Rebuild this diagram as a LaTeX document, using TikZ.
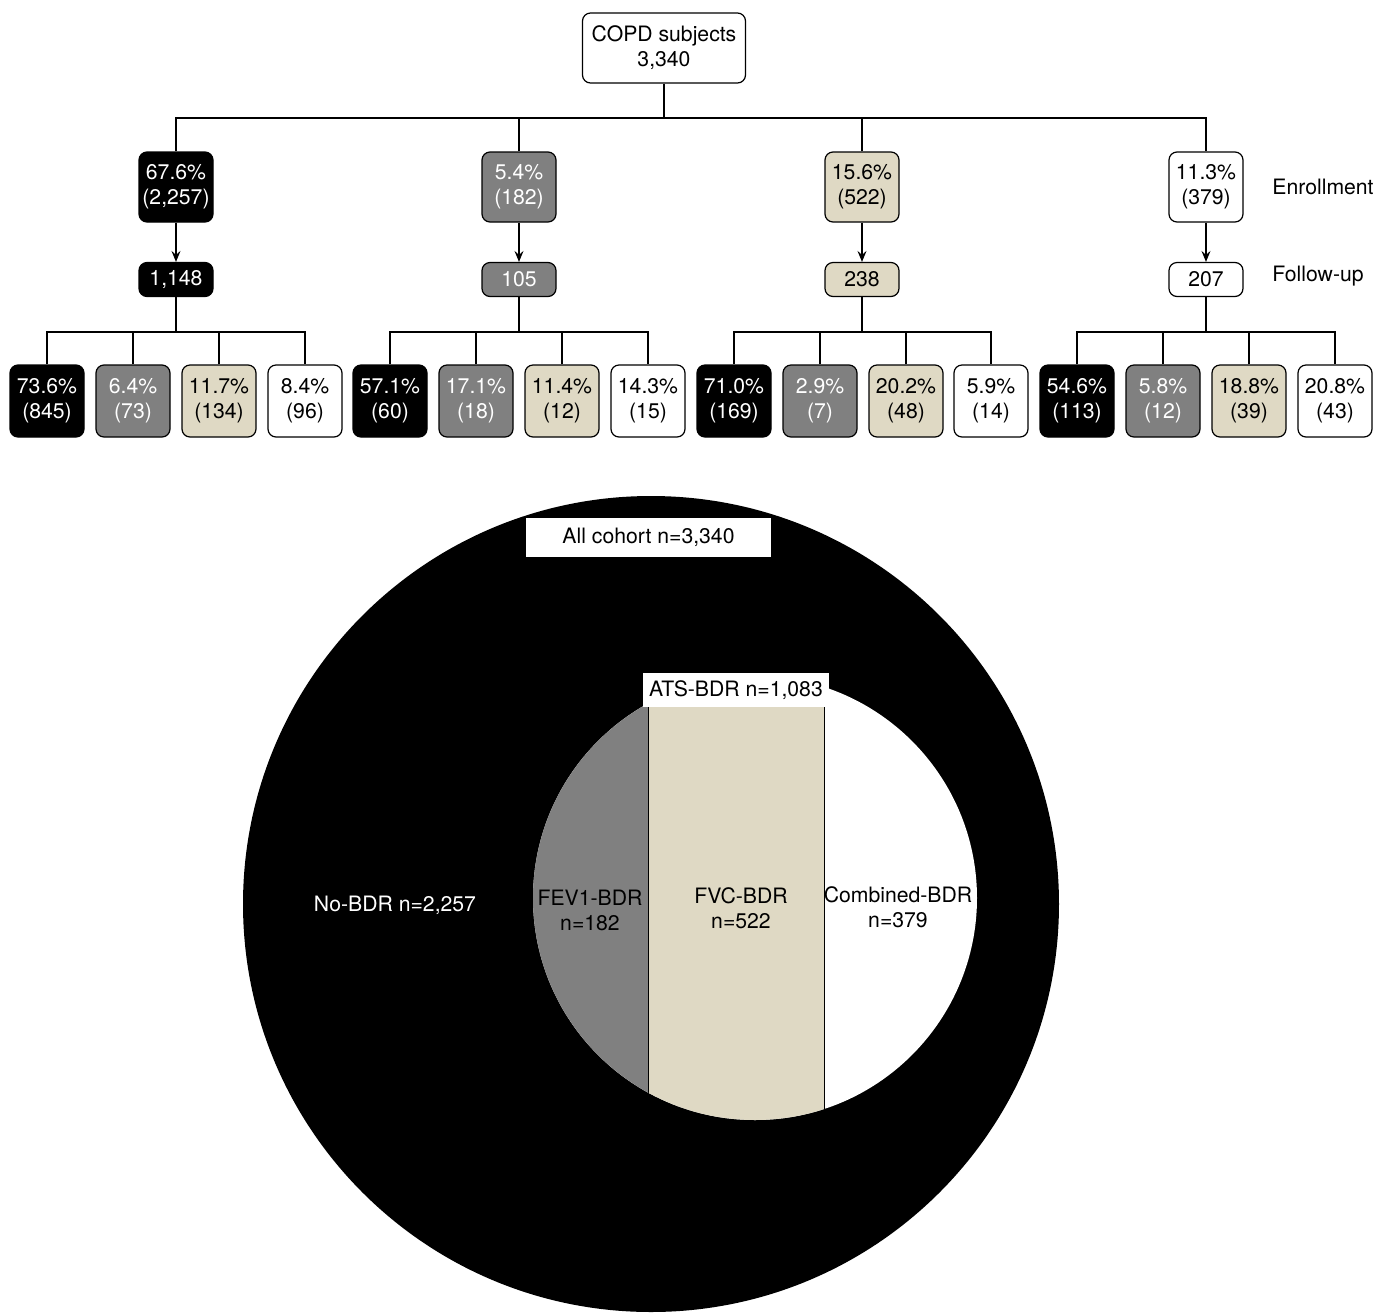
\documentclass[tikz,border=0pt]{standalone}
\usepackage{fontspec}
\setmainfont{TeX Gyre Heros}
\usetikzlibrary{arrows.meta}
\definecolor{bdrgray}{HTML}{808080}
\definecolor{bdrbeige}{HTML}{DFD9C4}
\begin{document}
\begin{tikzpicture}[x=0.5pt,y=-0.5pt,
  every node/.style={font=\fontsize{10.6}{12.5}\selectfont, align=center, inner sep=0pt},
  box/.style={draw=black, line width=0.6pt, rounded corners=4pt},
  cblk/.style={box, fill=black, text=white},
  cgry/.style={box, fill=bdrgray, text=white},
  cbge/.style={box, fill=bdrbeige, text=black},
  cwht/.style={box, fill=white, text=black},
  topbox/.style={cwht, minimum width=81.5pt, minimum height=35pt},
  ebox/.style={minimum width=37pt, minimum height=35pt},
  fbox/.style={minimum width=37pt, minimum height=17pt},
  lbox/.style={minimum width=37pt, minimum height=36pt},
  conn/.style={line width=0.6pt},
  arr/.style={conn, -{Stealth[length=5.5pt,width=4.5pt,inset=2pt]}},
  tagbox/.style={fill=white, text=black},
  side/.style={anchor=west, text=black}
]
\useasboundingbox (0,0) rectangle (1378,1313);

% ---------- tree ----------
\node[topbox] (top) at (664,48) {COPD subjects\\3,340};

\node[cblk,ebox] (e1) at (176,187) {67.6\%\\(2,257)};
\node[cgry,ebox] (e2) at (519,187) {5.4\%\\(182)};
\node[cbge,ebox] (e3) at (862,187) {15.6\%\\(522)};
\node[cwht,ebox] (e4) at (1206,187) {11.3\%\\(379)};

\node[cblk,fbox] (f1) at (176,279.5) {1,148};
\node[cgry,fbox] (f2) at (519,279.5) {105};
\node[cbge,fbox] (f3) at (862,279.5) {238};
\node[cwht,fbox] (f4) at (1206,279.5) {207};

\node[side] (enr) at (1272,187) {Enrollment};
\node[side] (fol) at (1272,276) {Follow-up};

% leaves group 1
\node[cblk,lbox] (l11) at (47,401) {73.6\%\\(845)};
\node[cgry,lbox] (l12) at (133,401) {6.4\%\\(73)};
\node[cbge,lbox] (l13) at (219,401) {11.7\%\\(134)};
\node[cwht,lbox] (l14) at (305,401) {8.4\%\\(96)};
% group 2
\node[cblk,lbox] (l21) at (390,401) {57.1\%\\(60)};
\node[cgry,lbox] (l22) at (476,401) {17.1\%\\(18)};
\node[cbge,lbox] (l23) at (562,401) {11.4\%\\(12)};
\node[cwht,lbox] (l24) at (648,401) {14.3\%\\(15)};
% group 3
\node[cblk,lbox] (l31) at (734,401) {71.0\%\\(169)};
\node[cgry,lbox] (l32) at (820,401) {2.9\%\\(7)};
\node[cbge,lbox] (l33) at (906,401) {20.2\%\\(48)};
\node[cwht,lbox] (l34) at (991,401) {5.9\%\\(14)};
% group 4
\node[cblk,lbox] (l41) at (1077,401) {54.6\%\\(113)};
\node[cgry,lbox] (l42) at (1163,401) {5.8\%\\(12)};
\node[cbge,lbox] (l43) at (1249,401) {18.8\%\\(39)};
\node[cwht,lbox] (l44) at (1335,401) {20.8\%\\(43)};

% connectors top -> enrollment
\coordinate (bus1) at (664,118);
\draw[conn] (top.south) -- (bus1);
\draw[conn] (e1.north) -- (e1.north |- bus1) -- (e4.north |- bus1) -- (e4.north);
\draw[conn] (e2.north) -- (e2.north |- bus1);
\draw[conn] (e3.north) -- (e3.north |- bus1);

% enrollment -> follow-up
\foreach \g in {1,2,3,4}{
  \draw[arr] (e\g.south) -- (f\g.north);
}

% follow-up -> leaves
\coordinate (bus2) at (0,332);
\foreach \g in {1,2,3,4}{
  \draw[conn] (f\g.south) -- (f\g.south |- bus2);
  \draw[conn] (l\g1.north) -- (l\g1.north |- bus2) -- (l\g4.north |- bus2) -- (l\g4.north);
  \draw[conn] (l\g2.north) -- (l\g2.north |- bus2);
  \draw[conn] (l\g3.north) -- (l\g3.north |- bus2);
}

% ---------- circles ----------
\fill[black] (651,904) circle[radius=204pt];
\begin{scope}
  \clip (755,898) circle[radius=111pt];
  \fill[white] (500,600) rectangle (1000,1200);
  \fill[bdrgray] (500,600) rectangle (648,1200);
  \fill[bdrbeige] (648,600) rectangle (824,1200);
  \draw[line width=0.5pt] (648,600) -- (648,1200);
  \draw[line width=0.5pt] (824,600) -- (824,1200);
\end{scope}

\node[tagbox, minimum width=122.5pt, minimum height=19.5pt] (all) at (648.5,537.5) {All cohort n=3,340};
\node[tagbox, minimum width=93pt, minimum height=17pt] (ats) at (736,690) {ATS-BDR n=1,083};

\node[text=white] (nobdr) at (395,905) {No-BDR n=2,257};
\node[text=black] (fev) at (590,910) {FEV1-BDR\\n=182};
\node[text=black] (fvc) at (741,908.5) {FVC-BDR\\n=522};
\node[text=black] (comb) at (898,907.5) {Combined-BDR\\n=379};
\end{tikzpicture}
\end{document}
